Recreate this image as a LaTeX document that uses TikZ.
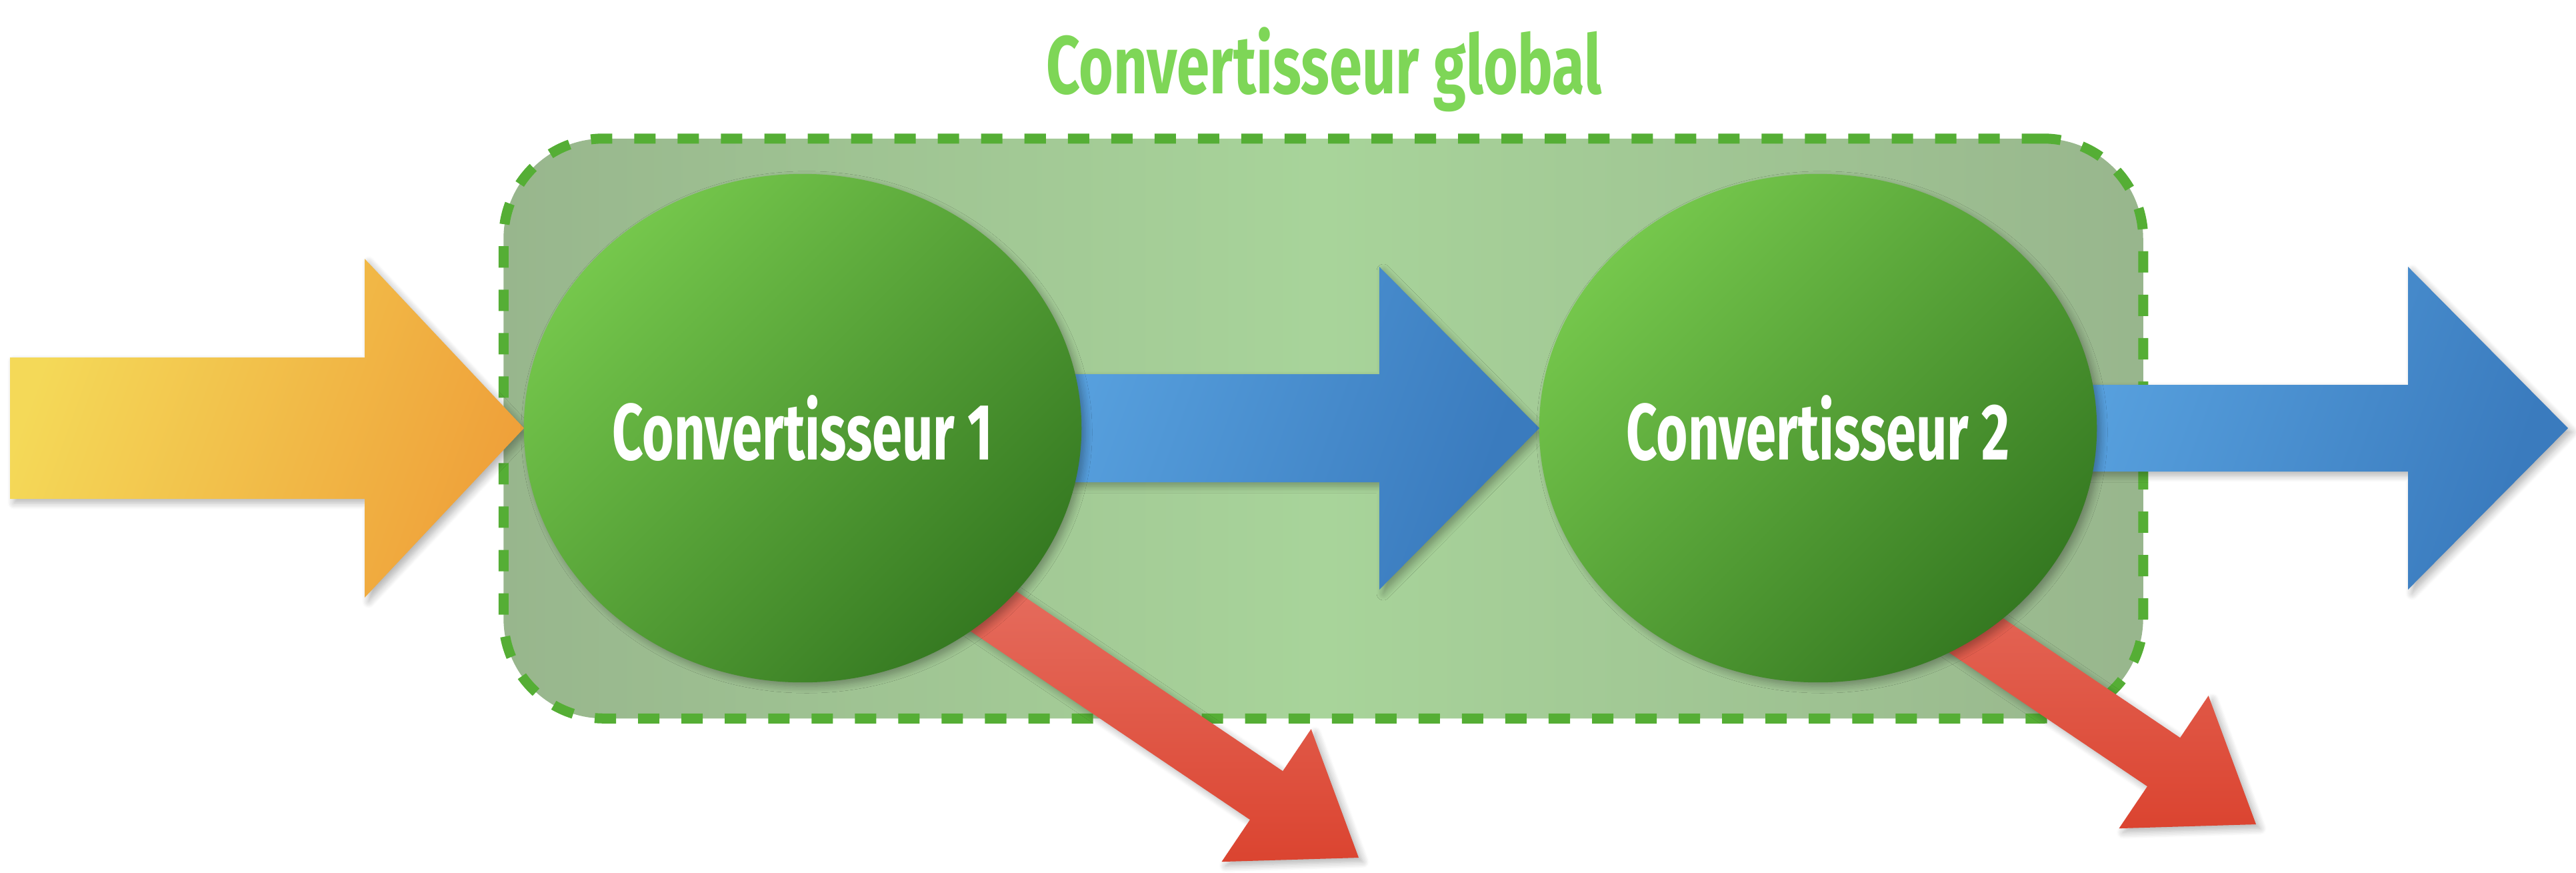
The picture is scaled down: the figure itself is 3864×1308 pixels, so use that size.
\documentclass[tikz,border=0pt]{standalone}
\usepackage{fontspec}
\usepackage{graphicx}
\usetikzlibrary{shapes.geometric}
\usetikzlibrary{shadows.blur}
\usetikzlibrary{calc}
\usetikzlibrary{positioning}
\setmainfont{Fira Sans}

\definecolor{yellowin}{HTML}{F4D958}
\definecolor{orangein}{HTML}{EFA13A}
\definecolor{bluelight}{HTML}{66B3EE}
\definecolor{bluedark}{HTML}{3A7BBE}
\definecolor{redlight}{HTML}{E8776A}
\definecolor{reddark}{HTML}{DB4430}
\definecolor{convlight}{HTML}{75C74C}
\definecolor{convdark}{HTML}{357921}
\definecolor{boxedge}{HTML}{98B68D}
\definecolor{boxmid}{HTML}{A8D49A}
\definecolor{dashgreen}{HTML}{55AE35}
\definecolor{titlegreen}{HTML}{7ED657}

\newcommand{\squeezetext}[2][0.72]{\scalebox{#1}[1]{#2}}

\tikzstyle{softshadow} = [blur shadow={shadow xshift=0.6mm, shadow yshift=-0.6mm, shadow opacity=30, shadow blur steps=8, shadow blur radius=1mm}]
\tikzstyle{converter} = [ellipse, minimum width=8.36cm, minimum height=7.62cm, inner sep=0pt, top color=convlight, bottom color=convdark, shading angle=45, text=white, font=\fontsize{34}{40}\selectfont\bfseries, softshadow]
\tikzstyle{globalbox} = [rectangle, rounded corners=1.5cm, minimum width=24.58cm, minimum height=8.69cm, left color=boxedge, right color=boxedge, middle color=boxmid, draw=dashgreen, line width=0.15cm, dash pattern=on 0.32cm off 0.33cm]
\tikzstyle{globaltitle} = [text=titlegreen, font=\fontsize{35}{42}\selectfont\bfseries]
\tikzstyle{inflow} = [left color=yellowin, right color=orangein, shading angle=70, softshadow]
\tikzstyle{outflow} = [left color=bluelight, right color=bluedark, shading angle=70, softshadow]
\tikzstyle{loss} = [top color=redlight, bottom color=reddark, softshadow]

\begin{document}
\begin{tikzpicture}[x=0.01cm,y=-0.01cm]
\useasboundingbox (0,0) rectangle (3864,1308);

\node (global) [globalbox] at (1985,642.5) {};
\node (gtitle) [globaltitle, anchor=base] at (1986,140) {\squeezetext{Convertisseur global}};

\coordinate (c1) at (1204,642);
\coordinate (c2) at (2727,642);
\coordinate (in1) at ($(c1)+(-418,0)$);
\coordinate (in2) at ($(c2)+(-418,0)$);
\coordinate (out) at (3852,642);
\coordinate (loss1) at (2038,1286);
\coordinate (loss2) at (3384,1236);

% entree
\path[inflow] (in1) -- ++(-239,-254) -- ++(0,148) -- ++(-532,0) -- ++(0,212) -- ++(532,0) -- ++(0,148) -- cycle;
% conv1 -> conv2
\path[outflow] (in2) -- ++(-240,-242) -- ++(0,161) -- ($(c1)+(0,-81)$) -- ++(0,162) -- ($(in2)+(-240,81)$) -- ++(0,161) -- cycle;
% sortie
\path[outflow] (out) -- ++(-240,-242) -- ++(0,177) -- ($(c2)+(0,-65)$) -- ++(0,130) -- ($(out)+(-240,65)$) -- ++(0,177) -- cycle;
% pertes
\foreach \l in {loss1,loss2}{
\begin{scope}[shift={(\l)},rotate=-34]
\path[loss] (0,0) -- (-167,-120) -- (-167,-44) -- (-867,-44) -- (-867,44) -- (-167,44) -- (-167,120) -- cycle;
\end{scope}
}

\node (conv1) [converter] at (c1) {\squeezetext[0.68]{Convertisseur 1}};
\node (conv2) [converter] at (c2) {\squeezetext[0.68]{Convertisseur 2}};
\end{tikzpicture}
\end{document}
